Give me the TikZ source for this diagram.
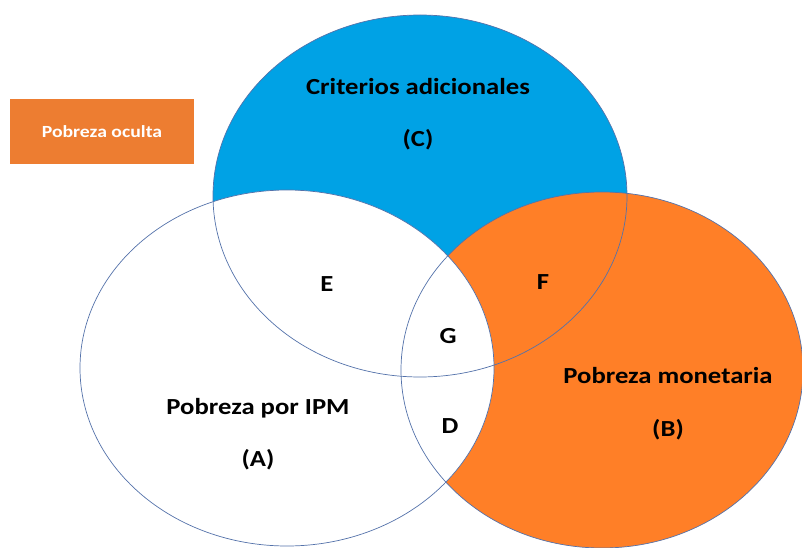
\documentclass[tikz,border=0pt]{standalone}
\usepackage{graphicx}
\usepackage{fontspec}
\setmainfont{Carlito}
\definecolor{cblue}{RGB}{0,162,229}
\definecolor{borange}{RGB}{255,127,39}
\definecolor{legorange}{RGB}{237,125,49}
\definecolor{edgec}{RGB}{84,114,170}
\newcommand{\widetxt}[1]{\scalebox{1.16}[1]{#1}}
\tikzset{
  lbl/.style={font=\bfseries\fontsize{23}{26}\selectfont, text=black, inner sep=0pt},
  outline/.style={draw=edgec, line width=0.7pt},
}
\begin{document}
\begin{tikzpicture}[x=1pt,y=-1pt]
\useasboundingbox (0,0) rectangle (802,548);
% fills
\fill[cblue] (420,196) ellipse [x radius=207, y radius=181];
\fill[borange] (602,370) ellipse [x radius=201, y radius=178];
\fill[white] (287,368) ellipse [x radius=207, y radius=178];
% outlines
\draw[outline] (420,196) ellipse [x radius=207, y radius=181];
\draw[outline] (602,370) ellipse [x radius=201, y radius=178];
\draw[outline] (287,368) ellipse [x radius=207, y radius=178];
% legend
\node[fill=legorange, minimum width=184pt, minimum height=65pt, inner sep=0pt, text=white,
  font=\bfseries\fontsize{17}{19}\selectfont] (leg) at (102,132) {\widetxt{Pobreza oculta}};
% labels
\node[lbl] (ctitle) at (418,87) {\widetxt{Criterios adicionales}};
\node[lbl] (clab) at (418,140) {\widetxt{(C)}};
\node[lbl] (atitle) at (258,408) {\widetxt{Pobreza por IPM}};
\node[lbl] (alab) at (258,460) {\widetxt{(A)}};
\node[lbl] (btitle) at (668,376) {\widetxt{Pobreza monetaria}};
\node[lbl] (blab) at (668,430) {\widetxt{(B)}};
\node[lbl] (e) at (327,284) {\widetxt{E}};
\node[lbl] (f) at (543,282) {\widetxt{F}};
\node[lbl] (g) at (448,336) {\widetxt{G}};
\node[lbl] (d) at (450,426) {\widetxt{D}};
\end{tikzpicture}
\end{document}
